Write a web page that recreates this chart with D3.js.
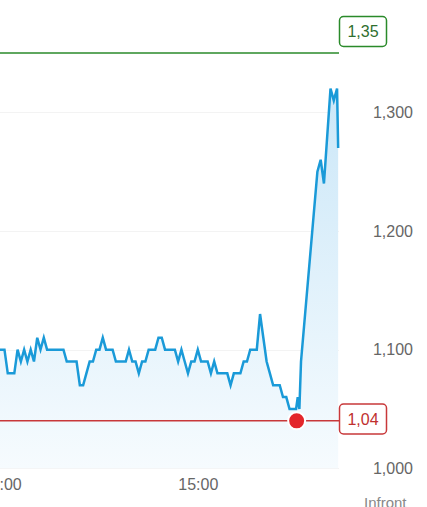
<!DOCTYPE html>
<html>
<head>
<meta charset="utf-8">
<script src="https://cdn.jsdelivr.net/npm/d3@7"></script>
<style>
  html, body { margin: 0; padding: 0; background: #fff; overflow: hidden; }
  svg { display: block; font-family: "Liberation Sans", Arial, sans-serif; }
</style>
</head>
<body>
<svg id="chart"></svg>
<script>
const width = 427;
const height = 507;

// price series (time of day, price)
const times = [
  "13:59", "14:00", "14:01", "14:02", "14:03", "14:04", "14:05", "14:06", "14:07", "14:08",
  "14:09", "14:10", "14:11", "14:12", "14:13", "14:14", "14:15", "14:16", "14:17", "14:18",
  "14:19", "14:20", "14:21", "14:22", "14:23", "14:24", "14:25", "14:26", "14:27", "14:28",
  "14:29", "14:30", "14:31", "14:32", "14:33", "14:34", "14:35", "14:36", "14:37", "14:38",
  "14:39", "14:40", "14:41", "14:42", "14:43", "14:44", "14:45", "14:46", "14:47", "14:48",
  "14:49", "14:50", "14:51", "14:52", "14:53", "14:54", "14:55", "14:56", "14:57", "14:58",
  "14:59", "15:00", "15:01", "15:02", "15:03", "15:04", "15:05", "15:06", "15:07", "15:08",
  "15:09", "15:10", "15:11", "15:12", "15:13", "15:14", "15:15", "15:16", "15:17", "15:18",
  "15:19", "15:20", "15:21", "15:22", "15:23", "15:24", "15:25", "15:26", "15:27", "15:28",
  "15:29", "15:30", "15:30:30", "15:31", "15:31:30", "15:36:30", "15:37:30", "15:38:30",
  "15:40:30", "15:41:30", "15:42:30", "15:42:50"
];
const prices = [
  1.10, 1.10, 1.10, 1.08, 1.08, 1.08, 1.10, 1.09, 1.10, 1.09,
  1.10, 1.09, 1.11, 1.10, 1.11, 1.10, 1.10, 1.10, 1.10, 1.10,
  1.10, 1.09, 1.09, 1.09, 1.09, 1.07, 1.07, 1.08, 1.09, 1.09,
  1.10, 1.10, 1.11, 1.10, 1.10, 1.10, 1.09, 1.09, 1.09, 1.09,
  1.10, 1.09, 1.09, 1.08, 1.09, 1.09, 1.10, 1.10, 1.10, 1.11,
  1.11, 1.10, 1.10, 1.10, 1.10, 1.09, 1.10, 1.09, 1.08, 1.09,
  1.09, 1.10, 1.09, 1.09, 1.09, 1.08, 1.09, 1.08, 1.08, 1.08,
  1.08, 1.07, 1.08, 1.08, 1.08, 1.09, 1.09, 1.10, 1.10, 1.10,
  1.13, 1.11, 1.09, 1.08, 1.07, 1.07, 1.07, 1.06, 1.06, 1.05,
  1.05, 1.05, 1.06, 1.05, 1.09, 1.25, 1.26, 1.24,
  1.32, 1.31, 1.32, 1.27
];

const targetLevel = 1.35;
const refLevel = 1.04;
const refMarkerTime = "15:30:10";

const yTicks = [1.0, 1.1, 1.2, 1.3];
const xTicks = ["14:00", "15:00"];
const sourceText = "Infront";

const parseTime = s => d3.timeParse(s.length > 5 ? "%H:%M:%S" : "%H:%M")(s);
const data = times.map((t, i) => ({ t: parseTime(t), v: prices[i] }));

const no = d3.formatLocale({ decimal: ",", thousands: " ", grouping: [3], currency: ["", " kr"] });
const fmtTick = no.format(".3f");
const fmtLevel = no.format(".2f");

const plotRight = 339;

const x = d3.scaleTime()
  .domain([parseTime("14:00"), parseTime("15:00")])
  .range([1.2, 197.8]);

const y = d3.scaleLinear()
  .domain([1.0, 1.3])
  .range([468.3, 112.3]);

const svg = d3.select("#chart")
  .attr("width", width)
  .attr("height", height)
  .attr("viewBox", `0 0 ${width} ${height}`);

const defs = svg.append("defs");

const grad = defs.append("linearGradient")
  .attr("id", "areaFill")
  .attr("gradientUnits", "userSpaceOnUse")
  .attr("x1", 0).attr("x2", 0)
  .attr("y1", y(1.32)).attr("y2", y(1.0));
grad.append("stop").attr("offset", 0).attr("stop-color", "#cbe7f8");
grad.append("stop").attr("offset", 1).attr("stop-color", "#f6fbfe");

// faint horizontal grid
svg.append("g")
  .selectAll("line")
  .data(yTicks)
  .join("line")
  .attr("x1", 0)
  .attr("x2", plotRight)
  .attr("y1", d => Math.round(y(d)) + 0.5)
  .attr("y2", d => Math.round(y(d)) + 0.5)
  .attr("stroke", "#f3f3f3")
  .attr("stroke-width", 1);

// area under the price
const area = d3.area()
  .x(d => x(d.t))
  .y0(y(1.0))
  .y1(d => y(d.v));

svg.append("path")
  .datum(data)
  .attr("d", area)
  .attr("fill", "url(#areaFill)");

// reference level lines
svg.append("line")
  .attr("x1", 0).attr("x2", plotRight)
  .attr("y1", y(targetLevel)).attr("y2", y(targetLevel))
  .attr("stroke", "#2a8a2a")
  .attr("stroke-width", 1.5);

svg.append("line")
  .attr("x1", 0).attr("x2", plotRight)
  .attr("y1", y(refLevel)).attr("y2", y(refLevel))
  .attr("stroke", "#c8383a")
  .attr("stroke-width", 1.5);

// price line
const line = d3.line()
  .x(d => x(d.t))
  .y(d => y(d.v));

svg.append("path")
  .datum(data)
  .attr("d", line)
  .attr("fill", "none")
  .attr("stroke", "#1a9ad8")
  .attr("stroke-width", 2.5)
  .attr("stroke-linejoin", "miter");

// marker on the reference line
svg.append("circle")
  .attr("cx", x(parseTime(refMarkerTime)))
  .attr("cy", y(refLevel))
  .attr("r", 8.5)
  .attr("fill", "#e3262b")
  .attr("stroke", "#fff")
  .attr("stroke-width", 2);

// level labels at the right edge
function levelLabel(value, color, textColor, cy) {
  const g = svg.append("g").attr("transform", `translate(${plotRight + 0.5},${cy})`);
  g.append("rect")
    .attr("x", 0).attr("y", -15)
    .attr("width", 47).attr("height", 30)
    .attr("rx", 4)
    .attr("fill", "#fff")
    .attr("stroke", color)
    .attr("stroke-width", 1.5);
  g.append("text")
    .attr("x", 23.5).attr("y", 0)
    .attr("dy", "0.35em")
    .attr("text-anchor", "middle")
    .attr("font-size", 16)
    .attr("fill", textColor)
    .text(fmtLevel(value));
}

levelLabel(targetLevel, "#2a8a2a", "#2f6f2f", 31.5);
levelLabel(refLevel, "#c8383a", "#c0302f", 419);

// y axis (right side, labels only)
const yAxis = d3.axisRight(y)
  .tickValues(yTicks)
  .tickSize(0)
  .tickFormat(fmtTick);

svg.append("g")
  .attr("transform", "translate(413,0)")
  .call(yAxis)
  .call(g => g.select(".domain").remove())
  .call(g => g.selectAll("text")
    .attr("x", 0)
    .attr("text-anchor", "end")
    .attr("font-size", 16)
    .attr("font-family", "Liberation Sans, Arial, sans-serif")
    .attr("fill", "#666"));

// x axis (labels only)
const xAxis = d3.axisBottom(x)
  .tickValues(xTicks.map(parseTime))
  .tickSize(0)
  .tickFormat(d3.timeFormat("%H:%M"));

svg.append("g")
  .attr("transform", "translate(0,476)")
  .call(xAxis)
  .call(g => g.select(".domain").remove())
  .call(g => g.selectAll("text")
    .attr("font-size", 16)
    .attr("font-family", "Liberation Sans, Arial, sans-serif")
    .attr("fill", "#666"));

svg.append("text")
  .attr("x", 364)
  .attr("y", 508)
  .attr("font-size", 15)
  .attr("fill", "#888")
  .text(sourceText);
</script>
</body>
</html>
